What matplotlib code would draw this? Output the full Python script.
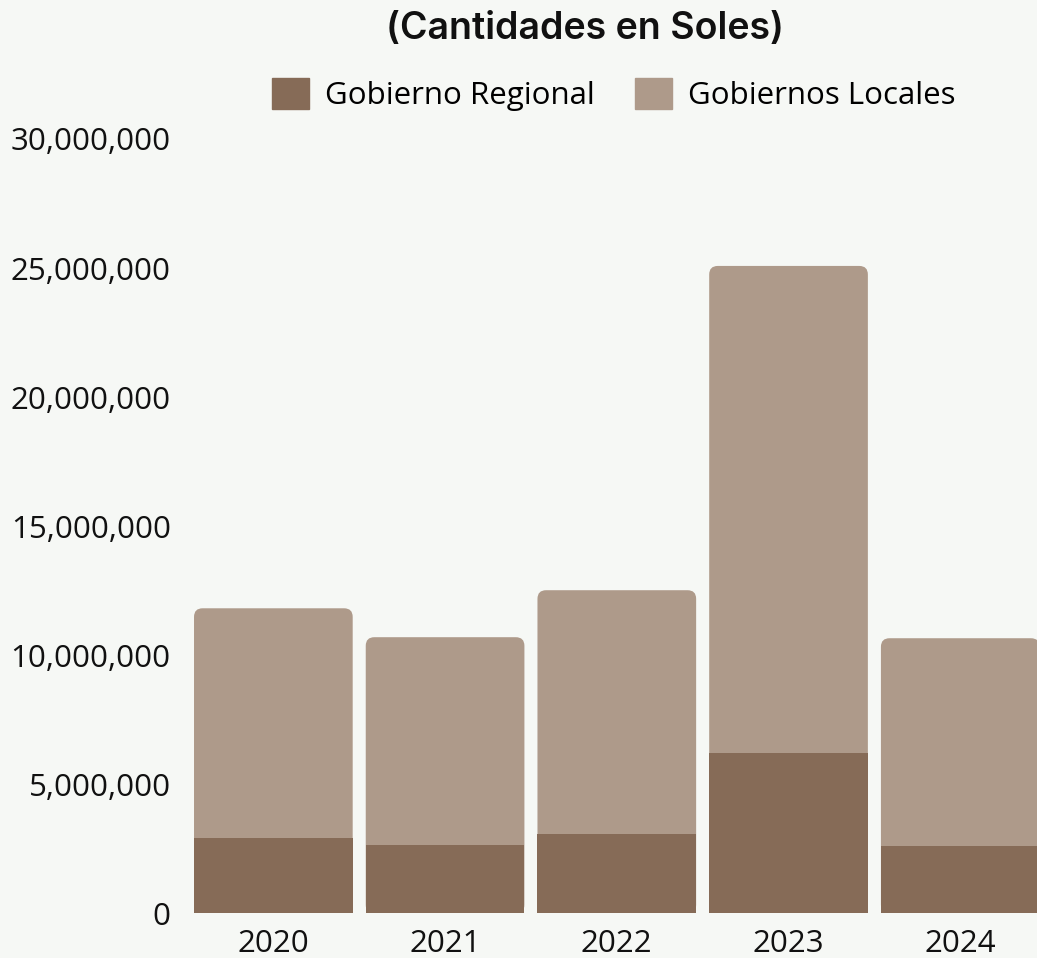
import matplotlib
matplotlib.use("Agg")
import matplotlib.pyplot as plt
from matplotlib.patches import FancyBboxPatch, Patch
from matplotlib.ticker import FuncFormatter

years = ["2020", "2021", "2022", "2023", "2024"]
regional = [2910000, 2640000, 3060000, 6200000, 2600000]
locales = [8910000, 8060000, 9460000, 18880000, 8060000]

BG = "#f6f8f5"
C_REG = "#866b57"
C_LOC = "#ae9a8a"

plt.rcParams["font.family"] = ["Open Sans", "DejaVu Sans"]

fig = plt.figure(figsize=(10.37, 9.58), dpi=100, facecolor=BG)
ax = fig.add_axes([0.1808, 0.0465, 0.828, 0.8085])
ax.set_facecolor(BG)

x = list(range(len(years)))
width = 0.924
totals = [r + l for r, l in zip(regional, locales)]

ax.set_xlim(-0.5, len(years) - 0.5)
ax.set_ylim(0, 30000000)

# full-height bars with rounded corners for the locales, regional drawn on top
base = ax.bar(x, totals, width=width, color=C_LOC, visible=False)
fig.canvas.draw()
p0 = ax.transData.transform((0, 0))
p1 = ax.transData.transform((1, 1e6))
aspect = ((p1[0] - p0[0]) / (p1[1] - p0[1])) * 1e6
for rect in base:
    ax.add_patch(FancyBboxPatch(
        (rect.get_x(), rect.get_y()), rect.get_width(), rect.get_height(),
        boxstyle="round,pad=0,rounding_size=0.05", mutation_aspect=aspect,
        facecolor=C_LOC, edgecolor="none"))
ax.bar(x, regional, width=width, color=C_REG)

ax.set_xticks(x, years)
ax.set_yticks(range(0, 30000001, 5000000))
ax.yaxis.set_major_formatter(FuncFormatter(lambda v, _: f"{v:,.0f}"))
ax.tick_params(length=0, labelsize=22.5, colors="#111111")
ax.tick_params(axis="y", pad=12)
ax.tick_params(axis="x", pad=11)
for s in ax.spines.values():
    s.set_visible(False)

fig.text(0.564, 0.97, "(Cantidades en Soles)", ha="center", va="center",
         fontsize=27, fontweight="semibold", family=["Inter", "DejaVu Sans"], color="#111111")

handles = [Patch(color=C_REG, label="Gobierno Regional"),
           Patch(color=C_LOC, label="Gobiernos Locales")]
fig.legend(handles=handles, loc="center", bbox_to_anchor=(0.592, 0.9014), ncol=2,
           frameon=False, fontsize=22.5, handlelength=1.18, handleheight=1.18,
           handletextpad=0.5, columnspacing=1.3)

fig.savefig("out.png", dpi=100, facecolor=BG)
